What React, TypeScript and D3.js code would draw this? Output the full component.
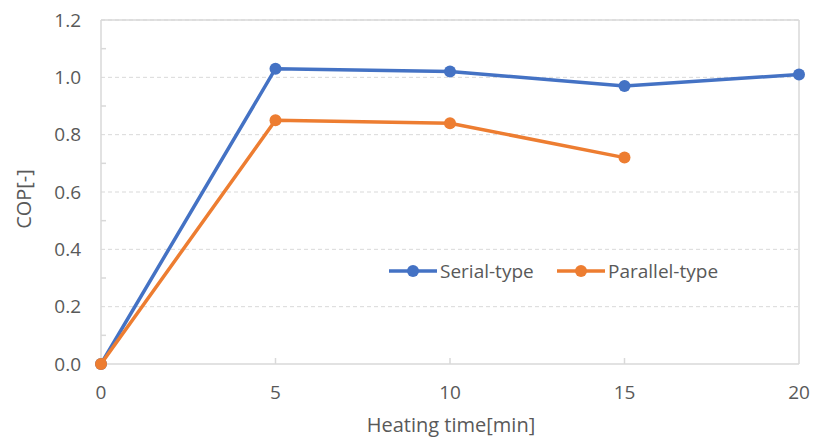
import React from "react";
import * as d3 from "d3";

const xValues = [0, 5, 10, 15, 20];
const serialValues = [0, 1.03, 1.02, 0.97, 1.01];
const parallelValues = [0, 0.85, 0.84, 0.72];
const yTicks = [0, 0.2, 0.4, 0.6, 0.8, 1.0, 1.2];
const yMinorTicks = [0.1, 0.3, 0.5, 0.7, 0.9, 1.1];
const xTicks = [0, 5, 10, 15, 20];
const seriesNames = ["Serial-type", "Parallel-type"];
const colors = ["#4472C4", "#ED7D31"];

export default function App() {
  const W = 814, H = 438;
  const x = d3.scaleLinear().domain([0, 20]).range([101, 799]);
  const y = d3.scaleLinear().domain([0, 1.2]).range([364, 20]);
  const font = "'Open Sans', sans-serif";
  const fs = 19;
  const ts = 20;
  const line = d3.line<[number, number]>().x((d) => x(d[0])).y((d) => y(d[1]));
  const serial: [number, number][] = serialValues.map((v, i) => [xValues[i], v]);
  const parallel: [number, number][] = parallelValues.map((v, i) => [xValues[i], v]);
  const series = [serial, parallel];
  const legendX = [389, 557];
  const legendY = 271;
  return (
    <svg width={W} height={H} style={{ position: "absolute", left: 0, top: 0, background: "#fff" }}>
      {yTicks.slice(1).map((t) => (
        <line key={t} x1={x(0)} x2={x(20)} y1={y(t)} y2={y(t)} stroke="#d9d9d9" strokeWidth={1} strokeDasharray="4,3" />
      ))}
      <line x1={x(0)} x2={x(20)} y1={y(1.2)} y2={y(1.2)} stroke="#d9d9d9" strokeWidth={1.5} />
      <line x1={x(20)} x2={x(20)} y1={y(1.2)} y2={y(0)} stroke="#d9d9d9" strokeWidth={1.5} />
      <line x1={x(0)} x2={x(0)} y1={y(1.2)} y2={y(0)} stroke="#d9d9d9" strokeWidth={1.5} />
      <line x1={x(0)} x2={x(20)} y1={y(0)} y2={y(0)} stroke="#d9d9d9" strokeWidth={1.5} />
      {yMinorTicks.map((t) => (
        <line key={t} x1={x(0)} x2={x(0) + 5} y1={y(t)} y2={y(t)} stroke="#d9d9d9" strokeWidth={1.5} />
      ))}
      {xTicks.slice(1, -1).map((t) => (
        <line key={t} x1={x(t)} x2={x(t)} y1={y(0)} y2={y(0) - 6} stroke="#d9d9d9" strokeWidth={1.5} />
      ))}
      {yTicks.map((t) => (
        <text key={t} x={81} y={y(t)} dy="0.35em" textAnchor="end" fontFamily={font} fontSize={fs} fill="#595959">
          {t.toFixed(1)}
        </text>
      ))}
      {xTicks.map((t) => (
        <text key={t} x={x(t)} y={392} dy="0.35em" textAnchor="middle" fontFamily={font} fontSize={fs} fill="#595959">
          {t}
        </text>
      ))}
      <text x={0} y={0} transform={`translate(24,199) rotate(-90)`} textAnchor="middle" dy="0.35em" fontFamily={font} fontSize={ts} fill="#595959">
        COP[-]
      </text>
      <text x={451} y={425} textAnchor="middle" dy="0.35em" fontFamily={font} fontSize={ts} fill="#595959">
        Heating time[min]
      </text>
      {series.map((s, i) => (
        <g key={i}>
          <path d={line(s) || ""} fill="none" stroke={colors[i]} strokeWidth={3.5} strokeLinejoin="round" />
          {s.map((d, j) => (
            <circle key={j} cx={x(d[0])} cy={y(d[1])} r={6} fill={colors[i]} />
          ))}
        </g>
      ))}
      {seriesNames.map((n, i) => (
        <g key={n}>
          <line x1={legendX[i]} x2={legendX[i] + 48} y1={legendY} y2={legendY} stroke={colors[i]} strokeWidth={3.5} />
          <circle cx={legendX[i] + 24} cy={legendY} r={6} fill={colors[i]} />
          <text x={legendX[i] + 51} y={legendY} dy="0.35em" fontFamily={font} fontSize={fs} fill="#595959">
            {n}
          </text>
        </g>
      ))}
    </svg>
  );
}
